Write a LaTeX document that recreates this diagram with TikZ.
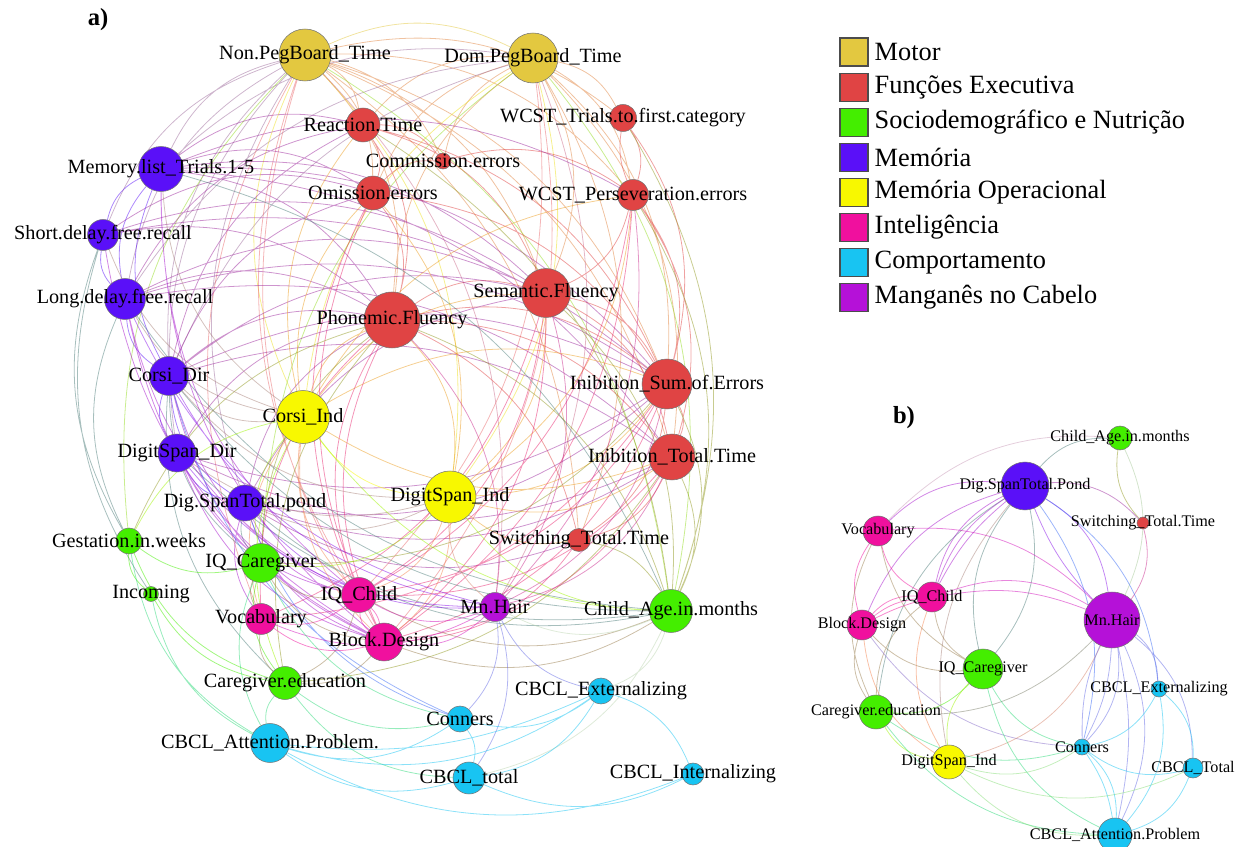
\documentclass[tikz,border=0pt]{standalone}
\usepackage{fontspec}
\setmainfont{Liberation Serif}
\usetikzlibrary{positioning, backgrounds}
\definecolor{motor}{HTML}{E3C840}
\definecolor{exec}{HTML}{E04444}
\definecolor{socio}{HTML}{44EE00}
\definecolor{memo}{HTML}{5A10F8}
\definecolor{wm}{HTML}{F8F800}
\definecolor{intel}{HTML}{F0109E}
\definecolor{behav}{HTML}{18C4F2}
\definecolor{mnhair}{HTML}{B511D8}

\begin{document}
\begin{tikzpicture}[x=0.02cm, y=-0.02cm,
    vtx/.style={circle, draw=black!55, line width=0.3pt, inner sep=0pt},
    lbl/.style={font=\fontsize{11.5}{12}\selectfont, inner sep=0pt},
    lblb/.style={font=\fontsize{9.2}{10}\selectfont, inner sep=0pt},
    key/.style={draw=black!70, line width=0.6pt, minimum size=0.56cm, inner sep=0pt},
    keytext/.style={font=\fontsize{15}{16}\selectfont},
    panel/.style={font=\fontsize{14}{15}\selectfont\bfseries},
    link/.style={line width=0.45pt, draw opacity=0.5, bend left=25},
    mix/.style 2 args={link, draw=#1!50!#2}
  ]
  \useasboundingbox (0,0) rectangle (1252,847);

  \node[panel] (pa) at (98,20) {a)};
  \node[panel] (pb) at (904,418) {b)};

  % panel a
  \node[vtx, fill=motor, minimum size=1.04cm, label={[lbl]center:Non.PegBoard\_Time}] (npeg) at (305,55) {};
  \node[vtx, fill=motor, minimum size=1.0cm, label={[lbl]center:Dom.PegBoard\_Time}] (dpeg) at (533,58) {};
  \node[vtx, fill=exec, minimum size=0.68cm, label={[lbl]center:Reaction.Time}] (rt) at (363,125) {};
  \node[vtx, fill=exec, minimum size=0.32cm, label={[lbl]center:Commission.errors}] (com) at (443,161) {};
  \node[vtx, fill=exec, minimum size=0.54cm, label={[lbl]center:WCST\_Trials.to.first.category}] (wtri) at (623,118) {};
  \node[vtx, fill=exec, minimum size=0.68cm, label={[lbl]center:Omission.errors}] (omi) at (373,193) {};
  \node[vtx, fill=exec, minimum size=0.62cm, label={[lbl]center:WCST\_Perseveration.errors}] (wper) at (633,195) {};
  \node[vtx, fill=memo, minimum size=0.9cm, label={[lbl]center:Memory.list\_Trials.1-5}] (mlist) at (161,169) {};
  \node[vtx, fill=memo, minimum size=0.62cm, label={[lbl]center:Short.delay.free.recall}] (sdfr) at (103,235) {};
  \node[vtx, fill=memo, minimum size=0.82cm, label={[lbl]center:Long.delay.free.recall}] (ldfr) at (125,299) {};
  \node[vtx, fill=exec, minimum size=0.98cm, label={[lbl]center:Semantic.Fluency}] (sem) at (546,293) {};
  \node[vtx, fill=exec, minimum size=1.12cm, label={[lbl]center:Phonemic.Fluency}] (pho) at (392,320) {};
  \node[vtx, fill=memo, minimum size=0.78cm, label={[lbl]center:Corsi\_Dir}] (cdir) at (169,376) {};
  \node[vtx, fill=exec, minimum size=1.0cm, label={[lbl]center:Inibition\_Sum.of.Errors}] (isum) at (667,384) {};
  \node[vtx, fill=wm, minimum size=1.06cm, label={[lbl]center:Corsi\_Ind}] (cind) at (303,417) {};
  \node[vtx, fill=memo, minimum size=0.76cm, label={[lbl]center:DigitSpan\_Dir}] (dsdir) at (177,453) {};
  \node[vtx, fill=exec, minimum size=0.92cm, label={[lbl]center:Inibition\_Total.Time}] (itot) at (672,457) {};
  \node[vtx, fill=wm, minimum size=1.04cm, label={[lbl]center:DigitSpan\_Ind}] (dsind) at (450,497) {};
  \node[vtx, fill=memo, minimum size=0.72cm, label={[lbl]center:Dig.SpanTotal.pond}] (dstot) at (245,503) {};
  \node[vtx, fill=socio, minimum size=0.52cm, label={[lbl]center:Gestation.in.weeks}] (gest) at (129,541) {};
  \node[vtx, fill=exec, minimum size=0.46cm, label={[lbl]center:Switching\_Total.Time}] (swt) at (579,540) {};
  \node[vtx, fill=socio, minimum size=0.78cm, label={[lbl]center:IQ\_Caregiver}] (iqcg) at (261,563) {};
  \node[vtx, fill=socio, minimum size=0.3cm, label={[lbl]center:Incoming}] (inc) at (151,594) {};
  \node[vtx, fill=intel, minimum size=0.7cm, label={[lbl]center:IQ\_Child}] (iqch) at (359,595) {};
  \node[vtx, fill=intel, minimum size=0.62cm, label={[lbl]center:Vocabulary}] (voc) at (261,619) {};
  \node[vtx, fill=intel, minimum size=0.76cm, label={[lbl]center:Block.Design}] (blk) at (384,642) {};
  \node[vtx, fill=mnhair, minimum size=0.58cm, label={[lbl]center:Mn.Hair}] (mn) at (495,607) {};
  \node[vtx, fill=socio, minimum size=0.86cm, label={[lbl]center:Child\_Age.in.months}] (age) at (671,611) {};
  \node[vtx, fill=socio, minimum size=0.66cm, label={[lbl]center:Caregiver.education}] (cged) at (285,683) {};
  \node[vtx, fill=behav, minimum size=0.52cm, label={[lbl]center:CBCL\_Externalizing}] (cext) at (601,691) {};
  \node[vtx, fill=behav, minimum size=0.52cm, label={[lbl]center:Conners}] (con) at (460,719) {};
  \node[vtx, fill=behav, minimum size=0.78cm, label={[lbl]center:CBCL\_Attention.Problem.}] (catt) at (270,743) {};
  \node[vtx, fill=behav, minimum size=0.64cm, label={[lbl]center:CBCL\_total}] (ctot) at (469,778) {};
  \node[vtx, fill=behav, minimum size=0.44cm, label={[lbl]center:CBCL\_Internalizing}] (cint) at (693,774) {};

  % panel b
  \node[vtx, fill=socio, minimum size=0.48cm, label={[lblb]center:Child\_Age.in.months}] (bage) at (1120,438) {};
  \node[vtx, fill=memo, minimum size=0.96cm, label={[lblb]center:Dig.SpanTotal.Pond}] (bdst) at (1025,486) {};
  \node[vtx, fill=exec, minimum size=0.24cm, label={[lblb]center:Switching\_Total.Time}] (bswt) at (1143,523) {};
  \node[vtx, fill=intel, minimum size=0.6cm, label={[lblb]center:Vocabulary}] (bvoc) at (878,531) {};
  \node[vtx, fill=intel, minimum size=0.6cm, label={[lblb]center:IQ\_Child}] (biqch) at (932,597) {};
  \node[vtx, fill=mnhair, minimum size=1.12cm, label={[lblb]center:Mn.Hair}] (bmn) at (1112,620) {};
  \node[vtx, fill=intel, minimum size=0.6cm, label={[lblb]center:Block.Design}] (bblk) at (862,625) {};
  \node[vtx, fill=socio, minimum size=0.8cm, label={[lblb]center:IQ\_Caregiver}] (biqcg) at (983,669) {};
  \node[vtx, fill=behav, minimum size=0.32cm, label={[lblb]center:CBCL\_Externalizing}] (bcext) at (1159,689) {};
  \node[vtx, fill=socio, minimum size=0.68cm, label={[lblb]center:Caregiver.education}] (bcged) at (876,712) {};
  \node[vtx, fill=behav, minimum size=0.32cm, label={[lblb]center:Conners}] (bcon) at (1082,747) {};
  \node[vtx, fill=wm, minimum size=0.68cm, label={[lblb]center:DigitSpan\_Ind}] (bdsi) at (949,762) {};
  \node[vtx, fill=behav, minimum size=0.4cm, label={[lblb]center:CBCL\_Total}] (bctot) at (1193,768) {};
  \node[vtx, fill=behav, minimum size=0.68cm, label={[lblb]center:CBCL\_Attention.Problem}] (bcatt) at (1115,835) {};

  % legend
  \node[key, fill=motor] (kmotor) at (854,52) {};
  \node[key, fill=exec, below=0.12cm of kmotor] (kexec) {};
  \node[key, fill=socio, below=0.12cm of kexec] (ksocio) {};
  \node[key, fill=memo, below=0.12cm of ksocio] (kmemo) {};
  \node[key, fill=wm, below=0.12cm of kmemo] (kwm) {};
  \node[key, fill=intel, below=0.12cm of kwm] (kintel) {};
  \node[key, fill=behav, below=0.12cm of kintel] (kbehav) {};
  \node[key, fill=mnhair, below=0.12cm of kbehav] (kmn) {};
  \node[keytext, right=0pt of kmotor] (tmotor) {Motor};
  \node[keytext, right=0pt of kexec] (texec) {Funções Executiva};
  \node[keytext, right=0pt of ksocio] (tsocio) {Sociodemográfico e Nutrição};
  \node[keytext, right=0pt of kmemo] (tmemo) {Memória};
  \node[keytext, right=0pt of kwm] (twm) {Memória Operacional};
  \node[keytext, right=0pt of kintel] (tintel) {Inteligência};
  \node[keytext, right=0pt of kbehav] (tbehav) {Comportamento};
  \node[keytext, right=0pt of kmn] (tmn) {Manganês no Cabelo};

  \begin{scope}[on background layer]
    % a) edges
    \draw[mix={motor}{motor}] (npeg) to (dpeg);
    \draw[mix={motor}{exec}] (npeg) to (rt) (npeg) to (omi) (npeg) to (com) (npeg) to (wper) (npeg) to (sem)
      (npeg) to (pho) (npeg) to (isum) (npeg) to (itot) (npeg) to (swt) (npeg) to (wtri)
      (rt) to (dpeg) (com) to (dpeg) (omi) to (dpeg) (dpeg) to (wper) (dpeg) to (sem) (pho) to (dpeg)
      (dpeg) to (isum) (dpeg) to (itot) (dpeg) to (swt) (dpeg) to (wtri);
    \draw[mix={motor}{memo}] (mlist) to (npeg) (sdfr) to (npeg) (ldfr) to (npeg) (cdir) to (npeg) (dsdir) to (npeg)
      (dstot) to (npeg) (mlist) to (dpeg) (cdir) to (dpeg) (ldfr) to (dpeg);
    \draw[mix={motor}{wm}] (cind) to (npeg) (npeg) to (dsind) (cind) to (dpeg) (dpeg) to (dsind);
    \draw[mix={motor}{socio}] (gest) to (npeg) (npeg) to (age) (dpeg) to (age) (iqcg) to (dpeg);
    \draw[mix={motor}{intel}] (iqch) to (npeg) (blk) to (npeg) (dpeg) to (iqch) (dpeg) to (blk) (voc) to (npeg);
    \draw[mix={motor}{mnhair}] (npeg) to (mn) (dpeg) to (mn);
    \draw[mix={exec}{exec}] (rt) to (omi) (rt) to (com) (omi) to (com) (wtri) to (wper) (wtri) to[bend right=15] (wper)
      (pho) to (sem) (isum) to (itot) (itot) to (swt) (pho) to (isum) (sem) to (isum) (wper) to (sem)
      (rt) to (pho) (omi) to (pho) (wper) to (isum) (wper) to (itot) (sem) to (itot) (pho) to (itot)
      (rt) to (isum) (com) to (wper) (isum) to (swt) (pho) to (swt) (wtri) to (isum) (rt) to (sem) (omi) to (isum);
    \draw[mix={exec}{memo}] (mlist) to (pho) (mlist) to (sem) (mlist) to (omi) (mlist) to (isum) (mlist) to (itot)
      (mlist) to (wper) (sdfr) to (pho) (sdfr) to (sem) (sdfr) to (isum) (sdfr) to (omi) (ldfr) to (pho)
      (ldfr) to (sem) (ldfr) to (isum) (ldfr) to (itot) (ldfr) to (rt) (cdir) to (pho) (cdir) to (sem)
      (cdir) to (isum) (cdir) to (itot) (cdir) to (omi) (dsdir) to (pho) (itot) to (dsdir) (isum) to (dsdir)
      (dstot) to (pho) (isum) to (dstot) (itot) to (dstot) (dstot) to (sem) (swt) to (dstot) (cdir) to (rt)
      (mlist) to (rt);
    \draw[mix={exec}{wm}] (cind) to (pho) (cind) to (sem) (cind) to (isum) (itot) to (cind) (cind) to (omi)
      (cind) to (rt) (cind) to (wper) (pho) to (dsind) (sem) to (dsind) (isum) to (dsind) (itot) to (dsind)
      (swt) to (dsind) (wper) to (dsind) (omi) to (dsind);
    \draw[mix={exec}{intel}] (iqch) to (pho) (sem) to (iqch) (isum) to (iqch) (itot) to (iqch) (wper) to (iqch)
      (blk) to (pho) (sem) to (blk) (isum) to (blk) (itot) to (blk) (wper) to (blk) (swt) to (blk)
      (voc) to (pho) (isum) to (voc) (sem) to (voc) (iqch) to (omi) (blk) to (omi);
    \draw[mix={exec}{socio}] (isum) to (age) (itot) to (age) (sem) to (age) (wper) to (age) (pho) to (age)
      (swt) to (age) (wtri) to (age) (rt) to (age) (iqcg) to (pho) (isum) to (iqcg) (cged) to (pho)
      (itot) to (cged) (gest) to (pho);
    \draw[mix={exec}{mnhair}] (pho) to (mn) (isum) to (mn) (itot) to (mn) (sem) to (mn) (wper) to (mn);
    \draw[mix={memo}{memo}] (sdfr) to (mlist) (ldfr) to (mlist) (ldfr) to (sdfr) (dsdir) to (cdir) (dstot) to (dsdir)
      (cdir) to (ldfr) (dstot) to (cdir) (cdir) to (mlist);
    \draw[mix={memo}{socio}] (gest) to (sdfr) (gest) to (ldfr) (age) to (cdir) (mlist) to (age) (iqcg) to (dstot)
      (age) to (ldfr) (age) to (dsdir) (iqcg) to (cdir) (age) to (dstot) (inc) to (sdfr) (cged) to (cdir);
    \draw[mix={memo}{wm}] (cind) to (cdir) (dsind) to (dsdir) (cind) to (mlist) (cind) to (ldfr) (dsind) to (dstot)
      (cind) to (sdfr) (dsind) to (cdir);
    \draw[mix={memo}{intel}] (iqch) to (mlist) (blk) to (ldfr) (iqch) to (cdir) (blk) to (dsdir) (iqch) to (dstot)
      (blk) to (dstot) (blk) to (sdfr) (iqch) to (ldfr) (blk) to (cdir) (blk) to (mlist) (iqch) to (dsdir)
      (voc) to (dstot);
    \draw[mix={memo}{mnhair}] (mn) to (dstot) (mn) to (cdir) (mn) to (ldfr) (mn) to (dsdir);
    \draw[mix={memo}{behav}] (con) to (dstot) (con) to (cdir);
    \draw[mix={wm}{wm}] (dsind) to (cind);
    \draw[mix={wm}{intel}] (iqch) to (cind) (blk) to (cind) (dsind) to (iqch) (dsind) to (blk) (voc) to (cind);
    \draw[mix={wm}{socio}] (iqcg) to (cind) (dsind) to (iqcg) (age) to (cind) (age) to (dsind) (cged) to (cind)
      (gest) to (cind);
    \draw[mix={wm}{mnhair}] (mn) to (dsind);
    \draw[mix={intel}{intel}] (blk) to (iqch) (blk) to[bend right=15] (iqch) (iqch) to (voc) (blk) to (voc);
    \draw[mix={intel}{socio}] (iqch) to (iqcg) (blk) to (cged) (cged) to (voc) (blk) to (iqcg) (voc) to (iqcg)
      (age) to (iqch) (age) to (blk) (iqch) to (cged);
    \draw[mix={intel}{mnhair}] (mn) to (iqch) (mn) to (blk) (mn) to (voc);
    \draw[mix={socio}{socio}] (inc) to (gest) (iqcg) to (gest) (cged) to (iqcg) (cged) to (inc) (cged) to (gest);
    \draw[mix={socio}{behav}] (con) to (cged) (ctot) to (cged) (catt) to (iqcg) (catt) to (gest) (catt) to (cged)
      (catt) to (inc) (con) to (iqcg);
    \draw[mix={socio}{black!30}] (age) to (ctot) (age) to (cext) (age) to (mn);
    \draw[mix={mnhair}{behav}] (mn) to (con) (cext) to (mn) (mn) to (ctot);
    \draw[mix={behav}{behav}] (con) to (catt) (ctot) to (catt) (cint) to (catt) (cext) to (catt)
      (cext) to[bend left=15] (catt) (cext) to (con) (cext) to (ctot) (cint) to (ctot) (cext) to (cint)
      (con) to (ctot);

    % b) edges
    \draw[mix={intel}{black!40}] (bvoc) to (bage);
    \draw[mix={memo}{socio}] (bdst) to (bage) (bdst) to (biqcg) (bcged) to (bdst) (biqcg) to (bdst);
    \draw[mix={exec}{socio}] (bswt) to (bage);
    \draw[mix={socio}{black!40}] (bage) to (bmn);
    \draw[mix={exec}{mnhair}] (bswt) to (bmn);
    \draw[mix={memo}{exec}] (bdst) to (bswt);
    \draw[mix={memo}{mnhair}] (bdst) to (bmn) (bdst) to[bend right=10] (bmn);
    \draw[mix={memo}{behav}] (bdst) to (bcon) (bdst) to (bcext);
    \draw[mix={memo}{intel}] (bvoc) to (bdst) (biqch) to (bdst) (biqch) to[bend left=18] (bdst)
      (biqch) to[bend left=11] (bdst) (bblk) to (bdst);
    \draw[mix={memo}{wm}] (bdsi) to (bdst);
    \draw[mix={intel}{intel}] (biqch) to (bvoc) (bblk) to (bvoc) (bblk) to (biqch) (bblk) to[bend left=15] (biqch)
      (bblk) to[bend left=5] (biqch);
    \draw[mix={intel}{mnhair}] (bvoc) to (bmn) (biqch) to (bmn) (biqch) to[bend left=15] (bmn);
    \draw[mix={intel}{socio}] (biqcg) to (bvoc) (bcged) to (bvoc) (biqcg) to (biqch) (bcged) to (biqch)
      (biqcg) to (bblk) (bcged) to (bblk);
    \draw[mix={intel}{wm}] (bdsi) to (biqch) (bdsi) to (bblk);
    \draw[mix={intel}{behav}] (bcon) to (bblk);
    \draw[mix={mnhair}{socio}] (bmn) to (bcged);
    \draw[mix={mnhair}{wm}] (bmn) to (bdsi);
    \draw[mix={mnhair}{behav}] (bmn) to (bcon) (bmn) to[bend left=12] (bcon) (bmn) to[bend right=12] (bcon)
      (bmn) to (bcatt) (bmn) to[bend left=12] (bcatt) (bmn) to (bctot) (bmn) to (bcext);
    \draw[mix={socio}{socio}] (biqcg) to (bcged);
    \draw[mix={socio}{wm}] (bdsi) to (biqcg) (bdsi) to (bcged);
    \draw[mix={socio}{behav}] (bcon) to (biqcg) (bcatt) to (biqcg) (bcon) to (bcged) (bcatt) to (bcged);
    \draw[mix={wm}{behav}] (bcon) to (bdsi) (bctot) to (bdsi) (bcatt) to (bdsi);
    \draw[mix={behav}{behav}] (bcext) to (bcon) (bctot) to (bcon) (bcon) to (bcatt) (bcon) to[bend left=12] (bcatt)
      (bcext) to (bctot) (bcext) to (bcatt) (bctot) to (bcatt);
  \end{scope}
\end{tikzpicture}
\end{document}
